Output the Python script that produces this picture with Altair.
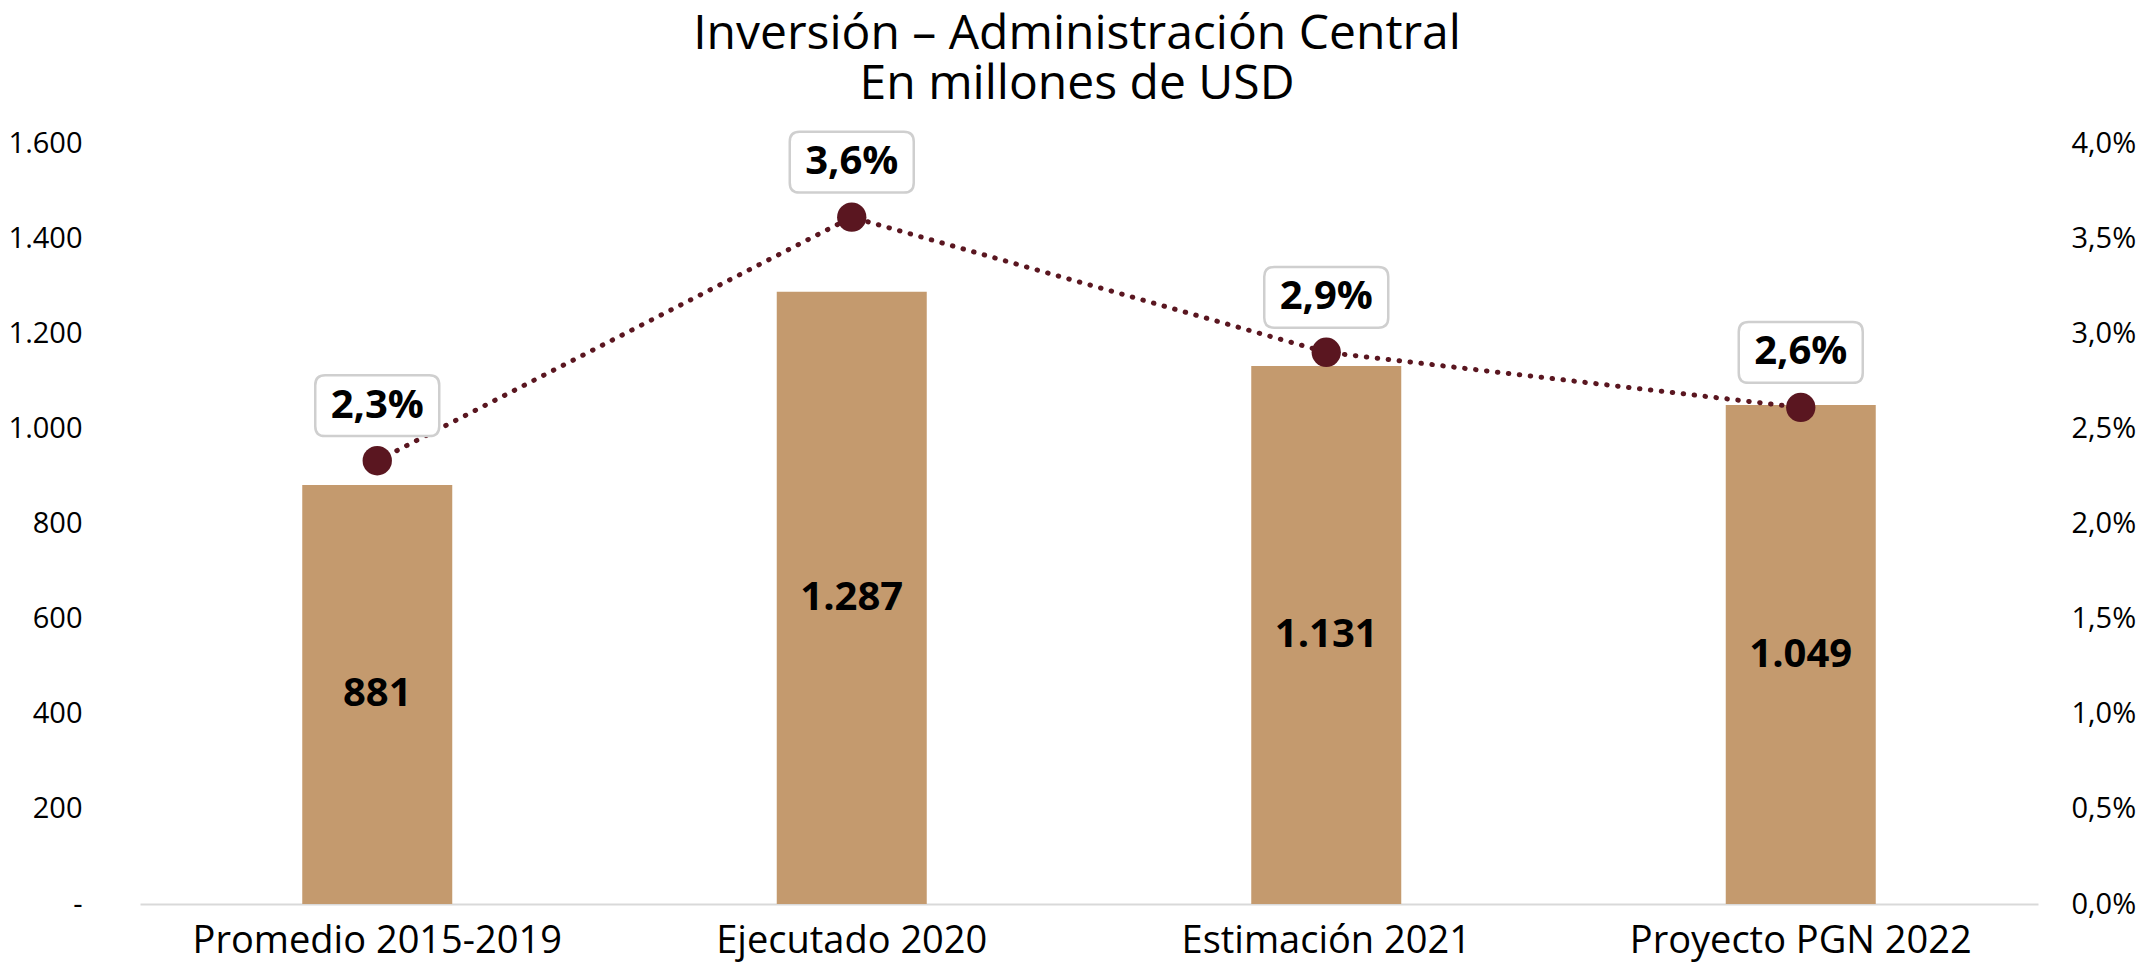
import altair as alt
import pandas as pd

categorias = ["Promedio 2015-2019", "Ejecutado 2020", "Estimación 2021", "Proyecto PGN 2022"]
inversion = [881, 1287, 1131, 1049]
porcentaje = [2.33, 3.61, 2.90, 2.61]
etiquetas_inv = ["881", "1.287", "1.131", "1.049"]
etiquetas_pct = ["2,3%", "3,6%", "2,9%", "2,6%"]

df = pd.DataFrame({
    "cat": categorias,
    "inv": inversion,
    "pct": porcentaje,
    "lab_inv": etiquetas_inv,
    "lab_pct": etiquetas_pct,
})
df["mitad"] = df["inv"] / 2

FONT = "Open Sans"
BAR_COLOR = "#C49A6E"
LINE_COLOR = "#5A1620"

x_enc = alt.X(
    "cat:N", sort=categorias, title=None,
    scale=alt.Scale(paddingInner=0, paddingOuter=0),
    axis=alt.Axis(labelAngle=0, labelFontSize=38, labelColor="#000000", labelFont=FONT,
                  labelLimit=0, ticks=False, domainColor="#D9D9D9", domainWidth=2,
                  labelPadding=18, grid=False),
)

left_axis = alt.Axis(
    orient="left", values=[0, 200, 400, 600, 800, 1000, 1200, 1400, 1600],
    labelExpr="datum.value == 0 ? '-' : replace(format(datum.value, ','), ',', '.')",
    labelFontSize=29, labelColor="#000000", labelFont=FONT, ticks=False, domain=False,
    grid=False, labelPadding=58, title=None,
)
right_axis = alt.Axis(
    orient="right", values=[0, 0.5, 1, 1.5, 2, 2.5, 3, 3.5, 4],
    labelExpr="replace(format(datum.value, '.1f'), '.', ',') + '%'",
    labelFontSize=29, labelColor="#000000", labelFont=FONT, ticks=False, domain=False,
    grid=False, labelPadding=33, title=None,
)
left_scale = alt.Scale(domain=[0, 1600], nice=False, zero=True)
right_scale = alt.Scale(domain=[0, 4], nice=False, zero=True)

base = alt.Chart(df)

bars = base.mark_bar(size=150, color=BAR_COLOR).encode(
    x=x_enc,
    y=alt.Y("inv:Q", scale=left_scale, axis=left_axis),
)
bar_text = base.mark_text(font=FONT, fontSize=40, fontWeight="bold", color="#000000", baseline="middle").encode(
    x=x_enc,
    y=alt.Y("mitad:Q", scale=left_scale, axis=left_axis),
    text="lab_inv:N",
)
left = alt.layer(bars, bar_text)

line = base.mark_line(color=LINE_COLOR, strokeWidth=5, strokeDash=[0.5, 10.5], strokeCap="round").encode(
    x=x_enc,
    y=alt.Y("pct:Q", scale=right_scale, axis=right_axis),
)
points = base.mark_point(filled=True, opacity=1, color=LINE_COLOR, size=860, shape="circle").encode(
    x=x_enc,
    y=alt.Y("pct:Q", scale=right_scale, axis=right_axis),
)
box_path = ("M -0.84,-0.49 L 0.84,-0.49 Q 1,-0.49 1,-0.33 L 1,0.33 Q 1,0.49 0.84,0.49 "
            "L -0.84,0.49 Q -1,0.49 -1,0.33 L -1,-0.33 Q -1,-0.49 -0.84,-0.49 Z")
boxes = base.mark_point(shape=box_path, size=15376, filled=True, fill="#FFFFFF", opacity=1,
                        stroke="#CFCFCF", strokeWidth=2.5, yOffset=-55).encode(
    x=x_enc,
    y=alt.Y("pct:Q", scale=right_scale, axis=right_axis),
)
pct_text = base.mark_text(font=FONT, fontSize=40, fontWeight="bold", color="#000000",
                          baseline="middle", yOffset=-55).encode(
    x=x_enc,
    y=alt.Y("pct:Q", scale=right_scale, axis=right_axis),
    text="lab_pct:N",
)
right = alt.layer(line, points, boxes, pct_text)

chart = alt.layer(left, right).resolve_scale(y="independent").properties(
    width=1898, height=761,
    autosize=alt.AutoSizeParams(type="none"),
    padding={"left": 132, "top": 135, "right": 109, "bottom": 60},
    title=alt.TitleParams(
        text=["Inversión – Administración Central", "En millones de USD"],
        fontSize=48, font=FONT, fontWeight="normal", color="#000000",
        anchor="middle", lineHeight=50, offset=18, dx=-12,
    ),
).configure(font=FONT).configure_view(stroke=None, strokeWidth=0)

chart.save("out.html", embed_options={"renderer": "svg", "actions": False})
